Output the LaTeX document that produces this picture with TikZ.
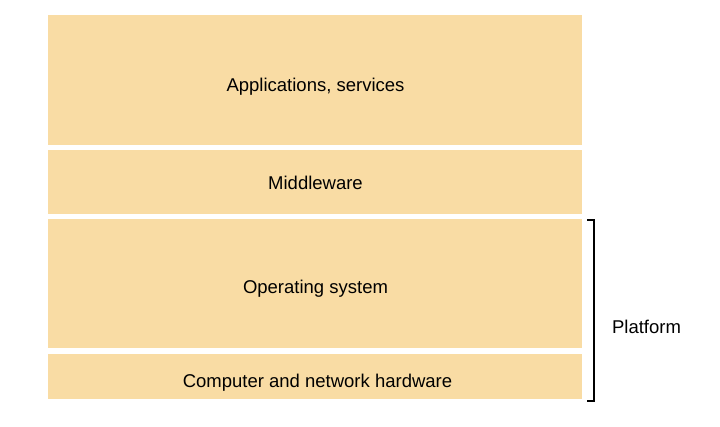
\documentclass[tikz,border=0pt]{standalone}
\usepackage{fontspec}
\setmainfont{Liberation Sans}
\definecolor{layerfill}{RGB}{249,220,164}
\begin{document}
\begin{tikzpicture}[x=1pt,y=-1pt,
  layer/.style={fill=layerfill,draw=none},
  lbl/.style={font=\fontsize{18.5}{21}\selectfont,anchor=base,inner sep=0pt}]
\useasboundingbox[fill=white] (0,0) rectangle (720,426);
\path[layer] (48,15) rectangle (582,145);
\path[layer] (48,150) rectangle (582,213.5);
\path[layer] (48,219) rectangle (582,348);
\path[layer] (48,354) rectangle (582,399);
\node[lbl] (app) at (315.5,91.5) {Applications, services};
\node[lbl] (mid) at (315.5,189) {Middleware};
\node[lbl] (os) at (315.5,293) {Operating system};
\node[lbl] (hw) at (317.5,387) {Computer and network hardware};
\coordinate (bt) at (587,220);
\coordinate (bb) at (587,401);
\draw[line width=1.6pt,line cap=butt] (bt) -- ++(7,0) |- (bb);
\node[lbl] (plat) at (646.5,333) {Platform};
\end{tikzpicture}
\end{document}
